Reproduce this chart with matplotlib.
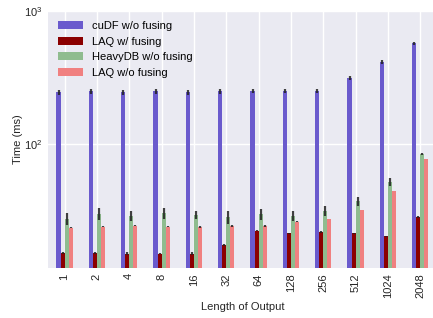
import matplotlib
matplotlib.use("Agg")
import matplotlib.pyplot as plt
import numpy as np

categories = ["1", "2", "4", "8", "16", "32", "64", "128", "256", "512", "1024", "2048"]
series_names = ["cuDF w/o fusing", "LAQ w/ fusing", "HeavyDB w/o fusing", "LAQ w/o fusing"]
cudf = [245, 250, 245, 250, 245, 250, 250, 250, 250, 313, 414, 574]
cudf_err = [10, 11, 10, 11, 10, 11, 10, 10, 10, 12, 14, 15]
laq_fused = [15.1, 15.1, 15.0, 15.0, 15.0, 17.4, 22.3, 21.4, 21.8, 21.4, 20.3, 28.2]
laq_fused_err = [0.3, 0.3, 0.3, 0.2, 0.3, 0.2, 0.2, 0.2, 0.2, 0.2, 0.2, 0.4]
heavydb = [27.3, 29.8, 28.8, 30.3, 29.3, 28.2, 29.8, 28.8, 31.4, 37.3, 51.8, 84.1]
heavydb_err = [2.8, 3.0, 2.5, 2.8, 2.0, 3.0, 2.8, 2.5, 2.5, 3.0, 3.5, 1.5]
laq_unfused = [23.4, 23.8, 24.2, 23.8, 23.8, 24.2, 24.2, 26.0, 27.3, 31.9, 44.4, 77.1]
laq_unfused_err = [0.2, 0.2, 0.2, 0.2, 0.3, 0.3, 0.3, 0.2, 0.2, 0.2, 0.2, 0.3]

colors = ["#6A5ACD", "#8B0000", "#8FBC8F", "#F08080"]

plt.rcParams['font.family'] = ['Liberation Sans', 'DejaVu Sans']

fig = plt.figure(figsize=(4.33, 3.18), dpi=100)
ax = fig.add_axes([48.4 / 433, 50.3 / 318, 388 / 433, 256.7 / 318])
ax.set_facecolor("#EAEAF2")
for s in ax.spines.values():
    s.set_visible(False)
ax.set_axisbelow(True)
ax.grid(True, which="major", color="white", linewidth=1.0)

x = np.arange(len(categories))
w = 0.125
data = [(cudf, cudf_err), (laq_fused, laq_fused_err), (heavydb, heavydb_err), (laq_unfused, laq_unfused_err)]
for i, ((vals, errs), name, c) in enumerate(zip(data, series_names, colors)):
    ax.bar(x + (i - 1.5) * w, vals, w, yerr=errs, color=c, label=name,
           error_kw=dict(ecolor="#222222", elinewidth=1.6, capsize=0, alpha=0.85))

ax.set_yscale("log")
ax.set_ylim(11.75, 1000)
ax.set_xlim(-0.5, len(categories) - 0.5)
ax.set_xticks(x)
ax.set_xticklabels(categories, rotation=90, fontsize=8, color="#262626")
ax.tick_params(axis="both", which="both", length=0, labelsize=8, colors="#262626", pad=4)
ax.yaxis.set_minor_locator(matplotlib.ticker.NullLocator())
ax.set_xlabel("Length of Output", fontsize=8, color="#262626", labelpad=3)
ax.set_ylabel("Time (ms)", fontsize=8, color="#262626", labelpad=1)

ax.legend(loc="upper left", frameon=False, fontsize=8, handlelength=2.2,
          labelspacing=0.5, borderaxespad=0.5)

fig.savefig("out.png", dpi=100)
